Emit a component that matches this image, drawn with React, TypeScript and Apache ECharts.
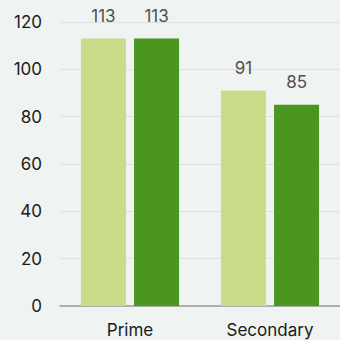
import React, { useEffect, useRef } from "react";
import * as echarts from "echarts";

const categories = ["Prime", "Secondary"];
const seriesA = [113, 91];
const seriesB = [113, 85];
const yTicks = { min: 0, max: 120, interval: 20 };

export default function App() {
  const ref = useRef<HTMLDivElement>(null);
  useEffect(() => {
    if (!ref.current) return;
    const chart = echarts.init(ref.current, null, { renderer: "svg" });
    const label = {
      show: true,
      position: "top" as const,
      distance: 14,
      color: "#505050",
      fontSize: 17,
      fontFamily: "Inter",
    };
    chart.setOption({
      animation: false,
      backgroundColor: "#eff3f1",
      textStyle: { fontFamily: "Inter" },
      grid: { left: 60, right: -3, top: 22, bottom: 34, containLabel: false },
      xAxis: {
        type: "category",
        data: categories,
        axisTick: { show: false },
        axisLine: { lineStyle: { color: "#9a9d9b", width: 1.5 } },
        axisLabel: { color: "#1a1a1a", fontSize: 17, margin: 15, fontFamily: "Inter" },
      },
      yAxis: {
        type: "value",
        min: yTicks.min,
        max: yTicks.max,
        interval: yTicks.interval,
        axisLine: { show: false },
        axisTick: { show: false },
        splitLine: { lineStyle: { color: "#dde2df", width: 1 } },
        axisLabel: { color: "#1a1a1a", fontSize: 17, margin: 18, fontFamily: "Inter" },
      },
      series: [
        {
          type: "bar",
          data: seriesA,
          barWidth: 45,
          barGap: "18%",
          itemStyle: { color: "#cadb8a" },
          label,
        },
        {
          type: "bar",
          data: seriesB,
          barWidth: 45,
          itemStyle: { color: "#4a961f" },
          label,
        },
      ],
    });
    return () => chart.dispose();
  }, []);
  return <div ref={ref} style={{ width: 340, height: 340, position: "absolute", left: 0, top: 0 }} />;
}
